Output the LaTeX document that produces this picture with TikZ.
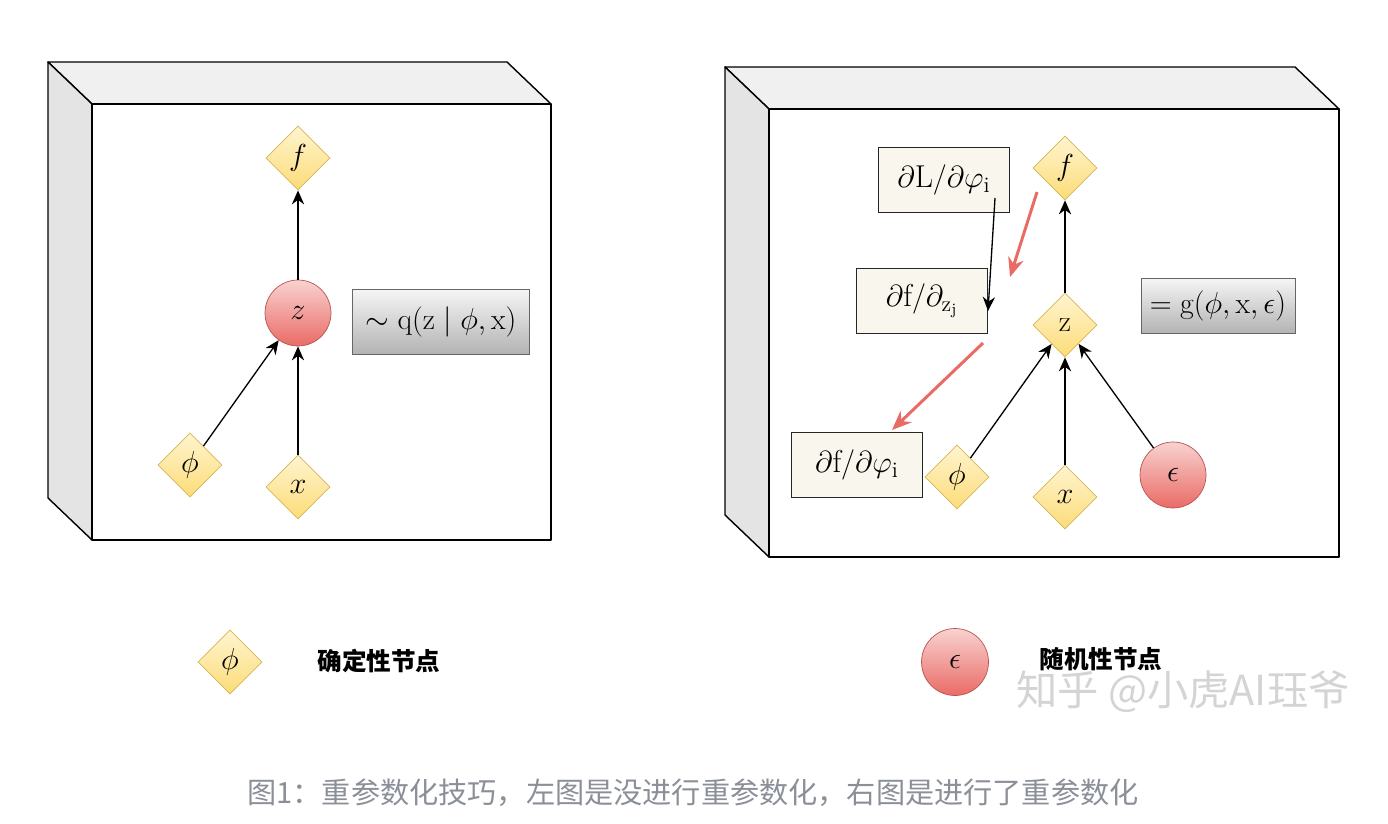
\documentclass[tikz,border=0pt]{standalone}
\usepackage{fontspec}
\usepackage{amsmath}
\usepackage{xcolor}
\usepackage{tikz}
\usetikzlibrary{arrows.meta, positioning, shapes.geometric}
\newfontfamily\cjk{Noto Sans CJK SC}
\definecolor{dettop}{HTML}{FFF4CF}
\definecolor{detbot}{HTML}{FCDC78}
\definecolor{detline}{HTML}{D6B656}
\definecolor{stotop}{HTML}{F8D2D0}
\definecolor{stobot}{HTML}{EA6B66}
\definecolor{stoline}{HTML}{B85450}
\definecolor{gradfill}{HTML}{F9F7ED}
\definecolor{backred}{HTML}{EA6B66}
\definecolor{topgray}{HTML}{F0F0F0}
\definecolor{sidegray}{HTML}{E4E4E4}
\definecolor{captiongray}{HTML}{8A8F98}
\tikzset{
  slab/.style={draw=black, line width=0.8pt, line join=round},
  detnode/.style={diamond, aspect=1, draw=detline, top color=dettop, bottom color=detbot,
                  minimum size=1.28cm, inner sep=0pt, font=\fontsize{17}{20}\selectfont},
  stonode/.style={circle, draw=stoline, top color=stotop, bottom color=stobot,
                  minimum size=1.32cm, inner sep=0pt, font=\fontsize{17}{20}\selectfont},
  distbox/.style={rectangle, draw=black!60, top color=black!4, bottom color=black!30,
                  inner sep=0pt, font=\fontsize{17}{20}\selectfont},
  gradbox/.style={rectangle, draw=black!85, fill=gradfill, line width=0.6pt,
                  minimum width=2.63cm, minimum height=1.31cm, font=\fontsize{18}{21}\selectfont},
  arrowline/.style={-{Stealth[length=8pt, width=7pt]}, line width=0.75pt},
  backline/.style={-{Stealth[length=11pt, width=9pt]}, backred, line width=1.7pt},
}

\begin{document}
\begin{tikzpicture}[x=0.02cm, y=-0.02cm]
\useasboundingbox (0,0) rectangle (1388,824);
\fill[white] (0,0) rectangle (1388,824);

% the two slabs
\foreach \bx/\by/\bw/\bh in {48/62/459/436, 725/67/570/448}{
  \filldraw[slab, fill=topgray] (\bx,\by) -- ++(\bw,0) -- ++(44,42) -- ++(-\bw,0) -- cycle;
  \filldraw[slab, fill=sidegray] (\bx,\by) -- ++(44,42) -- ++(0,\bh) -- ++(-44,-42) -- cycle;
  \filldraw[slab, fill=white] (\bx+44,\by+42) rectangle ++(\bw,\bh);
}

% left: without reparameterization
\node[detnode] (fL) at (298,158) {$f$};
\node[stonode] (zL) at (298,313) {$z$};
\node[distbox, minimum width=3.54cm, minimum height=1.3cm] (qbox) at (441,322)
  {$\sim \mathrm{q}(\mathrm{z}\mid\phi,\mathrm{x})$};
\node[detnode] (phiL) at (190,465) {$\phi$};
\node[detnode] (xL) at (298,487) {$x$};
\draw[arrowline] (zL) -- (fL);
\draw[arrowline] (phiL) -- (zL);
\draw[arrowline] (xL) -- (zL);

% right: with reparameterization
\node[detnode] (fR) at (1065,168) {$f$};
\node[detnode] (zR) at (1065,325) {$\mathrm{z}$};
\node[distbox, minimum width=3.08cm, minimum height=1.1cm] (gbox) at (1218,306)
  {$= \mathrm{g}(\phi,\mathrm{x},\epsilon)$};
\node[detnode] (phiR) at (957,477) {$\phi$};
\node[detnode] (xR) at (1065,497) {$x$};
\node[stonode] (epsR) at (1173,475) {$\epsilon$};
\node[gradbox] (dL) at (944,180) {$\partial\mathrm{L}/\partial\varphi_{\mathrm{i}}$};
\node[gradbox] (dfz) at (922,301) {$\partial\mathrm{f}/\partial_{\mathrm{z_j}}$};
\node[gradbox] (dfphi) at (857,465) {$\partial\mathrm{f}/\partial\varphi_{\mathrm{i}}$};
\draw[arrowline] (zR) -- (fR);
\draw[arrowline] (phiR) -- (zR);
\draw[arrowline] (xR) -- (zR);
\draw[arrowline] (epsR) -- (zR);

\coordinate (chainin) at (995,198);
\coordinate (chainout) at (988,311);
\draw[arrowline] (chainin) -- (chainout);
\coordinate (back1a) at (1037,192);
\coordinate (back1b) at (1010,277);
\coordinate (back2a) at (983,343);
\coordinate (back2b) at (892,430);
\draw[backline] (back1a) -- (back1b);
\draw[backline] (back2a) -- (back2b);

% legend
\node[detnode] (legdet) at (230,662) {$\phi$};
\node[font=\fontsize{14}{16}\selectfont\cjk\bfseries] (detlabel) at (379,661) {确定性节点};
\node[stonode, minimum size=1.34cm] (legsto) at (955,662) {$\epsilon$};
\node[font=\fontsize{14}{16}\selectfont\cjk\bfseries] (stolabel) at (1101,659) {随机性节点};
\node[font=\fontsize{23.5}{26}\selectfont\cjk, text=black!17] (mark) at (1183,692) {知乎 @小虎AI珏爷};

\node[font=\fontsize{16.6}{19}\selectfont\cjk, text=captiongray] (caption) at (693,793)
  {图1：重参数化技巧，左图是没进行重参数化，右图是进行了重参数化};
\end{tikzpicture}
\end{document}
